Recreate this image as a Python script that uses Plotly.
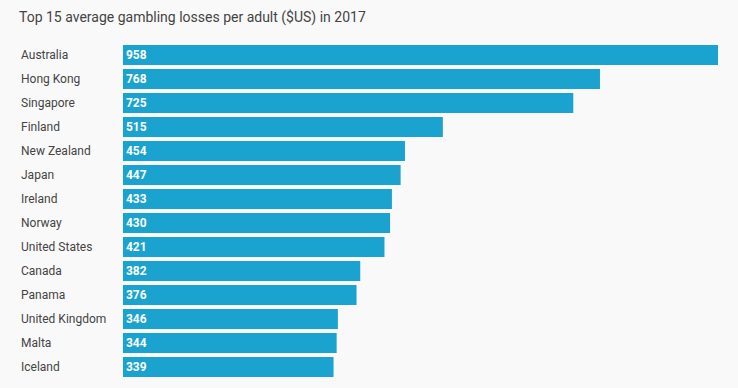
import plotly.graph_objects as go

countries = ["Australia", "Hong Kong", "Singapore", "Finland", "New Zealand", "Japan",
             "Ireland", "Norway", "United States", "Canada", "Panama", "United Kingdom",
             "Malta", "Iceland"]
losses = [958, 768, 725, 515, 454, 447, 433, 430, 421, 382, 376, 346, 344, 339]

W, H = 738, 388
ml, mr, mt, mb = 123, 20, 43, 9
plot_w = W - ml - mr

fig = go.Figure(go.Bar(
    x=losses, y=countries, orientation="h",
    marker=dict(color="#1ba3cf", line=dict(width=0)),
    text=[str(v) for v in losses], textposition="inside", insidetextanchor="start",
    textfont=dict(color="white", size=12, family="Roboto", weight="bold"),
    cliponaxis=False, hoverinfo="x+y",
))

for c in countries:
    fig.add_annotation(x=(19 - ml) / plot_w, xref="paper", y=c, yref="y",
                       text=c, showarrow=False, xanchor="left", yanchor="middle",
                       font=dict(size=12, color="#444444", family="Roboto"))

fig.update_layout(
    width=W, height=H,
    margin=dict(l=ml, r=mr, t=mt, b=mb),
    paper_bgcolor="#f9f9f9", plot_bgcolor="#f9f9f9",
    bargap=0.17,
    showlegend=False,
    title=dict(text="Top 15 average gambling losses per adult ($US) in 2017",
               x=19 / W, xanchor="left", xref="container",
               y=1 - 17 / H, yanchor="middle", yref="container",
               font=dict(size=14, color="#444444", family="Roboto")),
    xaxis=dict(range=[0, 958], visible=False, fixedrange=True),
    yaxis=dict(autorange="reversed", showticklabels=False, showgrid=False,
               zeroline=False, showline=False, ticks="", fixedrange=True),
    font=dict(family="Roboto"),
)

fig.write_html("out.html", config={"displayModeBar": False},
               post_script="document.body.style.margin='0';document.body.style.background='#f9f9f9';")
